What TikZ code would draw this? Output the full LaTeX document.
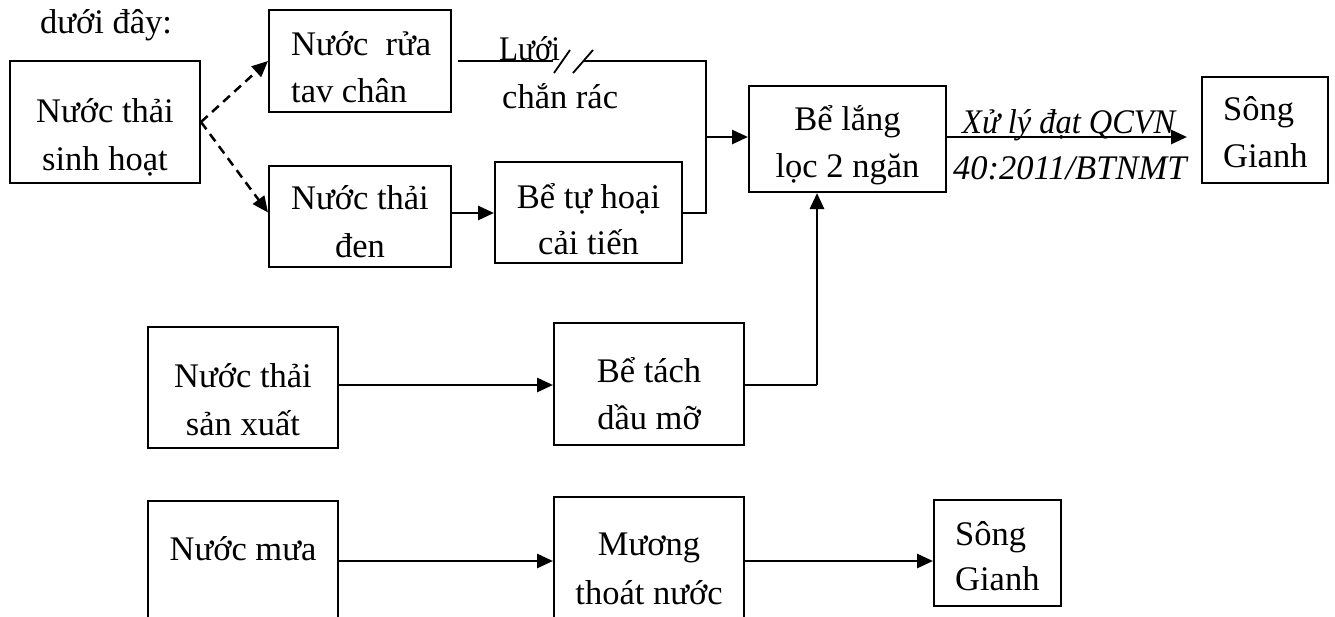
\documentclass[tikz,border=0pt]{standalone}
\usepackage{fontspec}
\setmainfont{Liberation Serif}
\usetikzlibrary{arrows.meta}
\tikzset{
  box/.style={draw, line width=2pt, inner sep=0pt},
  txt/.style={inner sep=0pt, font=\fontsize{34.5}{47}\selectfont},
  txtc/.style={txt, anchor=base},
  txtl/.style={txt, anchor=base west},
  flow/.style={line width=2.8pt, -{Triangle[length=16pt,width=14pt]}},
  thinline/.style={line width=1.8pt},
  dflow/.style={line width=2.5pt, dash pattern=on 9pt off 6pt, -{Triangle[length=16pt,width=14pt]}},
}
\begin{document}
\begin{tikzpicture}[x=1pt,y=-1pt]
\path[use as bounding box] (0,0) rectangle (1335,616);
\clip (0,0) rectangle (1335,616);

% heading
\node[txtl] (head) at (40,33) {dưới đây:};

% boxes
\node[box, minimum width=190pt, minimum height=122pt] (sinhhoat) at (105,122) {};
\node[box, minimum width=182pt, minimum height=102pt] (nuocrua) at (360,61) {};
\node[box, minimum width=182pt, minimum height=101pt] (den) at (360,216.5) {};
\node[box, minimum width=187pt, minimum height=101pt] (tuhoai) at (588.5,212.5) {};
\node[box, minimum width=197pt, minimum height=106pt] (belang) at (847.5,139) {};
\node[box, minimum width=126pt, minimum height=106pt] (song1) at (1265,130) {};
\node[box, minimum width=190pt, minimum height=121pt] (sanxuat) at (243,387.5) {};
\node[box, minimum width=190pt, minimum height=122pt] (betach) at (649,384) {};
\node[box, minimum width=190pt, minimum height=120pt] (nuocmua) at (243,561) {};
\node[box, minimum width=190pt, minimum height=128pt] (muong) at (649,561) {};
\node[box, minimum width=127pt, minimum height=106pt] (song2) at (997.5,553) {};

% box texts
\node[txtc] (t1a) at (105,122) {Nước thải};
\node[txtc] (t1b) at (105,170) {sinh hoạt};
\node[txtl] (t2a) at (291,55) {Nước~ rửa};
\node[txtl] (t2b) at (291,102) {tav chân};
\node[txtc] (t3a) at (360,209) {Nước thải};
\node[txtc] (t3b) at (360,257) {đen};
\node[txtc] (t4a) at (588.5,208) {Bể tự hoại};
\node[txtc] (t4b) at (588.5,254) {cải tiến};
\node[txtc] (t5a) at (847.5,130) {Bể lắng};
\node[txtc] (t5b) at (847.5,177) {lọc 2 ngăn};
\node[txtl] (t6a) at (1223,120) {Sông};
\node[txtl] (t6b) at (1223,167) {Gianh};
\node[txtc] (t7a) at (243,387) {Nước thải};
\node[txtc] (t7b) at (243,435) {sản xuất};
\node[txtc] (t8a) at (649,382) {Bể tách};
\node[txtc] (t8b) at (649,429) {dầu mỡ};
\node[txtc] (t9a) at (243,560) {Nước mưa};
\node[txtc] (t10a) at (649,555) {Mương};
\node[txtc] (t10b) at (649,604) {thoát nước};
\node[txtl] (t11a) at (955,545) {Sông};
\node[txtl] (t11b) at (955,590) {Gianh};

% connector labels
\node[txtl] (luoi) at (499,60) {\scalebox{0.9}[1]{Lưới}};
\node[txtl] (chanrac) at (502,108) {chắn rác};
\node[txtl, font=\fontsize{34.5}{47}\selectfont\itshape] (xuly1) at (962,133) {\scalebox{0.94}[1]{Xử lý đạt QCVN}};
\node[txtl, font=\fontsize{34.5}{47}\selectfont\itshape] (xuly2) at (953,179) {40:2011/BTNMT};

% junction coordinates
\coordinate (r0) at ([xshift=6pt]nuocrua.east);
\coordinate (g1) at (553,61);
\coordinate (g2) at (583,61);
\coordinate (j0) at (706,61);
\coordinate (j1) at (706,213);
\coordinate (m) at (706,137);
\coordinate (c2) at (817,385);

% dashed arrows
\draw[dflow] (sinhhoat.east) -- (nuocrua.west);
\draw[dflow] (sinhhoat.east) -- ([yshift=4pt]den.west);

% screen line with gap
\draw[thinline] (r0) -- (g1);
\draw[thinline] (g2) -- (j0) -- (j1) -- (j1 -| tuhoai.east);
\draw[thinline] (554,73) -- (570,50);
\draw[thinline] (573,73) -- (593,50);

% solid arrows
\draw[flow] (den.east |- j1) -- (j1 -| tuhoai.west);
\draw[flow] (m) -- (m -| belang.west);
\draw[flow, shorten >=14pt] (m -| belang.east) -- (m -| song1.west);
\draw[flow] (sanxuat.east |- c2) -- (c2 -| betach.west);
\draw[thinline] (c2 -| betach.east) -- (c2);
\draw[flow] (c2) -- (c2 |- belang.south);
\draw[flow] (nuocmua.east) -- (muong.west);
\draw[flow] (muong.east) -- (muong.east -| song2.west);
\end{tikzpicture}
\end{document}
